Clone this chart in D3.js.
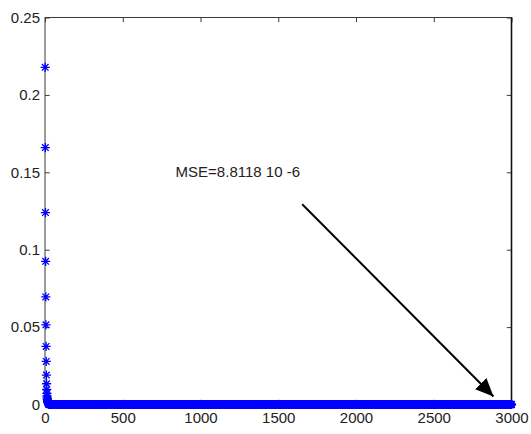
<!DOCTYPE html>
<html>
<head>
<meta charset="utf-8">
<script src="https://cdn.jsdelivr.net/npm/d3@7/dist/d3.min.js"></script>
<style>
  html, body { margin: 0; padding: 0; background: #fff; }
  svg { display: block; }
  .tick-label { font-family: "Liberation Sans Narrow", "Arial Narrow", "Liberation Sans", Arial, sans-serif; font-size: 15px; fill: #222; }
</style>
</head>
<body>
<div id="chart"></div>
<script>
// Training error per epoch: fast early decay, then a flat tail at the final MSE.
const headMSE = [
  0.2178, 0.1660, 0.1240, 0.0925, 0.0695, 0.0515, 0.0375, 0.0278, 0.0190, 0.0134,
  0.0097, 0.0072, 0.0055, 0.0043, 0.0034, 0.0027, 0.0022, 0.0018, 0.0015, 0.0012,
  0.0010, 0.0008, 0.0006, 0.0005, 0.0004, 0.0003, 0.0002, 0.0001
];
const finalMSE = 8.8118e-6;
const totalEpochs = 3000;

const xTicks = [0, 500, 1000, 1500, 2000, 2500, 3000];
const yTicks = [0, 0.05, 0.1, 0.15, 0.2, 0.25];

const noteText = "MSE=8.8118 10 -6";
const notePos = [840, 0.147];
const arrowFrom = [1654, 0.1294];
const arrowTo = [2884, 0.0052];

// Build the per-epoch series: listed early values, then the converged value.
const series = [];
for (let e = 1; e <= totalEpochs; e++) {
  series.push({ epoch: e, mse: e <= headMSE.length ? headMSE[e - 1] : finalMSE });
}

const W = 531, H = 434;
const plot = { left: 45, right: 511.5, top: 17.5, bottom: 404.5 };

const x = d3.scaleLinear().domain([0, 3000]).range([plot.left, plot.right]);
const y = d3.scaleLinear().domain([0, 0.25]).range([plot.bottom, plot.top]);

const svg = d3.select("#chart").append("svg").attr("width", W).attr("height", H);

// Asterisk markers (plus + cross) in blue
const r = 4.6, rd = r * 0.72;
const star = `M${-r},0L${r},0M0,${-r}L0,${r}M${-rd},${-rd}L${rd},${rd}M${-rd},${rd}L${rd},${-rd}`;

// Axes box
const axisColor = "#3a3a3a";
svg.append("rect")
  .attr("x", plot.left).attr("y", plot.top)
  .attr("width", plot.right - plot.left).attr("height", plot.bottom - plot.top)
  .attr("fill", "none").attr("stroke", axisColor).attr("stroke-width", 1);

const tickLen = 4.7;
const bottomAxis = d3.axisBottom(x).tickValues(xTicks).tickFormat(d3.format("d")).tickSizeInner(-tickLen).tickSizeOuter(0).tickPadding(8);
const topAxis = d3.axisTop(x).tickValues(xTicks).tickFormat("").tickSizeInner(-tickLen).tickSizeOuter(0);
const leftAxis = d3.axisLeft(y).tickValues(yTicks).tickFormat(d => d === 0 ? "0" : String(+d.toFixed(2))).tickSizeInner(-tickLen).tickSizeOuter(0).tickPadding(5);
const rightAxis = d3.axisRight(y).tickValues(yTicks).tickFormat("").tickSizeInner(-tickLen).tickSizeOuter(0);

function styleAxis(g) {
  g.select(".domain").remove();
  g.selectAll(".tick line").attr("stroke", axisColor);
  g.selectAll(".tick text").attr("class", "tick-label").attr("fill", "#222");
}

svg.append("g").attr("transform", `translate(0,${plot.bottom})`).call(bottomAxis).call(styleAxis);
svg.append("g").attr("transform", `translate(0,${plot.top})`).call(topAxis).call(styleAxis);
svg.append("g").attr("transform", `translate(${plot.left},0)`).call(leftAxis).call(styleAxis);
svg.append("g").attr("transform", `translate(${plot.right},0)`).call(rightAxis).call(styleAxis);

// Darker right edge of the box
svg.append("line")
  .attr("x1", plot.right).attr("x2", plot.right)
  .attr("y1", plot.top).attr("y2", plot.bottom)
  .attr("stroke", "#111").attr("stroke-width", 1.6);

// Data markers
svg.append("g")
  .attr("fill", "none").attr("stroke", "#0000ff").attr("stroke-width", 1.3)
  .selectAll("path")
  .data(series)
  .join("path")
  .attr("transform", d => `translate(${x(d.epoch)},${y(d.mse)})`)
  .attr("d", star);

// Annotation
svg.append("text")
  .attr("class", "tick-label")
  .attr("x", x(notePos[0])).attr("y", y(notePos[1]))
  .text(noteText);

svg.append("defs").append("marker")
  .attr("id", "head")
  .attr("viewBox", "0 0 18 16")
  .attr("refX", 18).attr("refY", 8)
  .attr("markerWidth", 18).attr("markerHeight", 16)
  .attr("markerUnits", "userSpaceOnUse")
  .attr("orient", "auto")
  .append("path").attr("d", "M0,0L18,8L0,16Z").attr("fill", "#000");

svg.append("line")
  .attr("x1", x(arrowFrom[0])).attr("y1", y(arrowFrom[1]))
  .attr("x2", x(arrowTo[0])).attr("y2", y(arrowTo[1]))
  .attr("stroke", "#000").attr("stroke-width", 2)
  .attr("marker-end", "url(#head)");
</script>
</body>
</html>
